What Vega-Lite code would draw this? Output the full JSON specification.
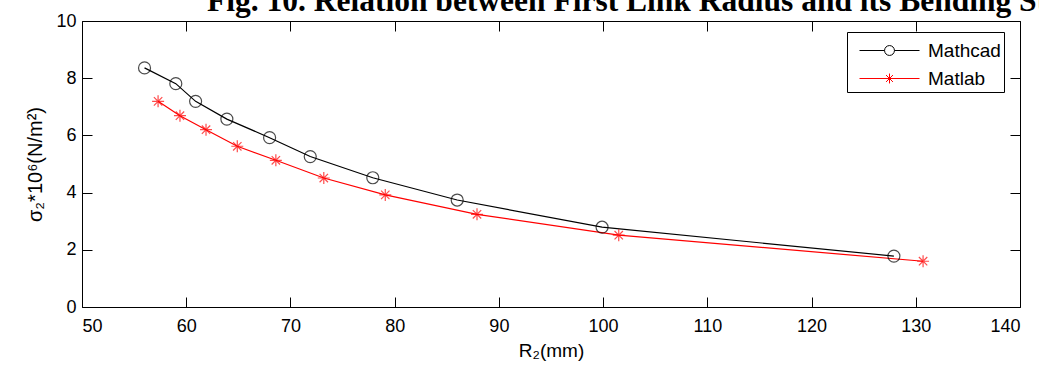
{
  "$schema": "https://vega.github.io/schema/vega-lite/v6.json",
  "autosize": "none",
  "width": 938,
  "height": 286,
  "padding": {"left": 82, "top": 21, "right": 19, "bottom": 63},
  "background": "white",
  "title": {
    "text": "Fig. 10. Relation between First Link Radius and its Bending Stress",
    "anchor": "start",
    "frame": "group",
    "dx": 125,
    "offset": -30,
    "baseline": "alphabetic",
    "font": "Liberation Serif",
    "fontSize": 31.5,
    "fontWeight": "bold",
    "color": "black"
  },
  "config": {
    "view": {"stroke": "black", "strokeWidth": 1},
    "axis": {
      "domain": false,
      "grid": false,
      "tickColor": "black",
      "tickWidth": 1,
      "labelFont": "Liberation Sans",
      "labelFontSize": 18,
      "labelColor": "black",
      "titleFont": "Liberation Sans",
      "titleFontSize": 19,
      "titleFontWeight": "normal",
      "titleColor": "black"
    }
  },
  "data": {
    "values": [
      {"series": "Mathcad", "R2": 56.0, "sigma": 8.36},
      {"series": "Mathcad", "R2": 59.0, "sigma": 7.81},
      {"series": "Mathcad", "R2": 60.9, "sigma": 7.19},
      {"series": "Mathcad", "R2": 63.9, "sigma": 6.57},
      {"series": "Mathcad", "R2": 68.0, "sigma": 5.92},
      {"series": "Mathcad", "R2": 71.9, "sigma": 5.26},
      {"series": "Mathcad", "R2": 77.9, "sigma": 4.52},
      {"series": "Mathcad", "R2": 86.0, "sigma": 3.74},
      {"series": "Mathcad", "R2": 99.9, "sigma": 2.79},
      {"series": "Mathcad", "R2": 127.9, "sigma": 1.78},
      {"series": "Matlab", "R2": 57.3, "sigma": 7.19},
      {"series": "Matlab", "R2": 59.4, "sigma": 6.69},
      {"series": "Matlab", "R2": 61.9, "sigma": 6.2},
      {"series": "Matlab", "R2": 64.9, "sigma": 5.62},
      {"series": "Matlab", "R2": 68.6, "sigma": 5.13},
      {"series": "Matlab", "R2": 73.2, "sigma": 4.51},
      {"series": "Matlab", "R2": 79.1, "sigma": 3.92},
      {"series": "Matlab", "R2": 87.9, "sigma": 3.24},
      {"series": "Matlab", "R2": 101.5, "sigma": 2.51},
      {"series": "Matlab", "R2": 130.7, "sigma": 1.6}
    ]
  },
  "layer": [
    {
      "mark": {"type": "line", "strokeWidth": 1.2},
      "encoding": {
        "x": {
          "field": "R2", "type": "quantitative",
          "scale": {"domain": [50, 140], "nice": false, "zero": false},
          "axis": {
            "orient": "bottom",
            "values": [50, 60, 70, 80, 90, 100, 110, 120, 130, 140],
            "tickSize": -10,
            "labelPadding": 20,
            "title": "R₂(mm)",
            "titlePadding": 6
          }
        },
        "y": {
          "field": "sigma", "type": "quantitative",
          "scale": {"domain": [0, 10], "nice": false},
          "axis": {
            "orient": "left",
            "values": [0, 2, 4, 6, 8, 10],
            "tickSize": -10,
            "labelPadding": 16,
            "title": "σ₂*10⁶(N/m²)",
            "titleFontSize": 20,
            "titlePadding": 10
          }
        },
        "color": {
          "field": "series", "type": "nominal",
          "scale": {"domain": ["Mathcad", "Matlab"], "range": ["black", "red"]},
          "legend": {
            "orient": "none",
            "legendX": 765,
            "legendY": 11,
            "title": null,
            "strokeColor": "black",
            "fillColor": "white",
            "padding": 3,
            "symbolSize": 900,
            "symbolStrokeWidth": 1,
            "labelOffset": 47,
            "labelFont": "Liberation Sans",
            "labelFontSize": 19,
            "labelColor": "black",
            "rowPadding": 2,
            "labelExpr": "datum.label + '\u2002'",
            "encode": {
              "symbols": {
                "update": {
                  "shape": {"signal": "datum.value === 'Mathcad' ? 'M-0.4,0H1.27M1.93,0H3.6M1.27,0A0.33,0.33 0 1,1 1.93,0A0.33,0.33 0 1,1 1.27,0' : 'M-0.4,0H3.6M1.6,-0.33V0.33M1.37,-0.23L1.83,0.23M1.37,0.23L1.83,-0.23'"},
                  "stroke": {"signal": "datum.value === 'Mathcad' ? '#555555' : '#ff0000'"},
                  "fill": {"value": "transparent"}
                }
              }
            }
          }
        }
      }
    },
    {
      "transform": [{"filter": "datum.series === 'Mathcad'"}],
      "mark": {"type": "point", "shape": "circle", "filled": false, "size": 144, "strokeWidth": 1.2, "color": "black"},
      "encoding": {
        "x": {
          "field": "R2", "type": "quantitative",
          "scale": {"domain": [50, 140], "nice": false, "zero": false},
          "axis": {
            "orient": "top",
            "values": [50, 60, 70, 80, 90, 100, 110, 120, 130, 140],
            "tickSize": -10,
            "labels": false,
            "title": null
          }
        },
        "y": {
          "field": "sigma", "type": "quantitative",
          "scale": {"domain": [0, 10], "nice": false},
          "axis": {
            "orient": "right",
            "values": [0, 2, 4, 6, 8, 10],
            "tickSize": -10,
            "labels": false,
            "title": null
          }
        }
      }
    },
    {
      "transform": [{"filter": "datum.series === 'Matlab'"}],
      "mark": {"type": "point", "shape": "M0,-1V1M-1,0H1M-0.7,-0.7L0.7,0.7M-0.7,0.7L0.7,-0.7", "filled": false, "size": 144, "strokeWidth": 1.2, "color": "red"},
      "encoding": {
        "x": {"field": "R2", "type": "quantitative", "scale": {"domain": [50, 140], "nice": false, "zero": false}, "axis": null},
        "y": {"field": "sigma", "type": "quantitative", "scale": {"domain": [0, 10], "nice": false}, "axis": null}
      }
    }
  ],
  "resolve": {"axis": {"x": "independent", "y": "independent"}}
}
